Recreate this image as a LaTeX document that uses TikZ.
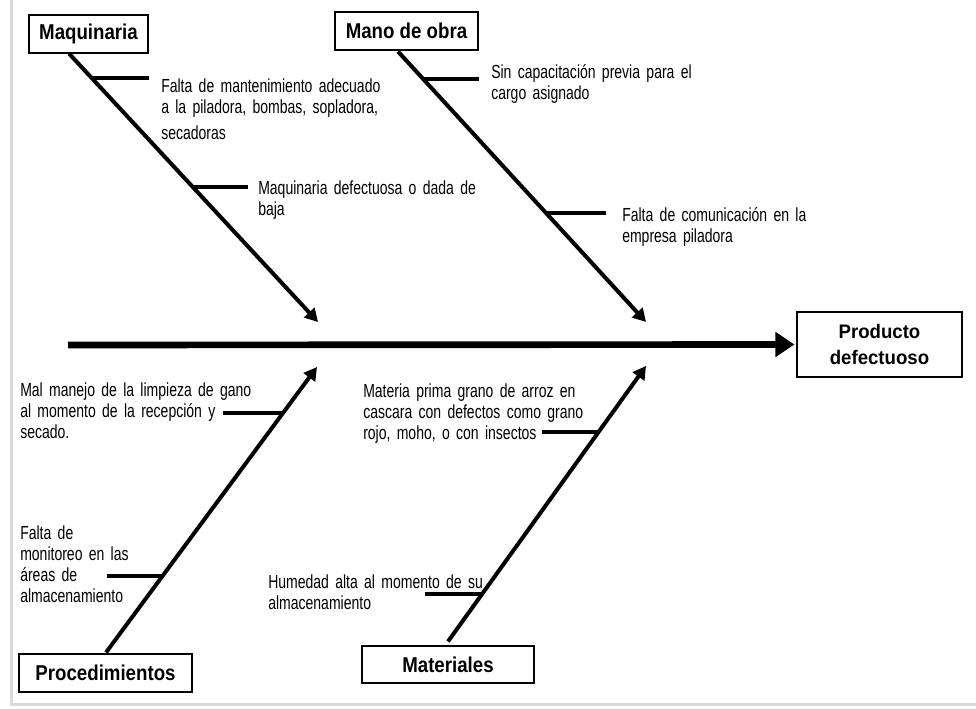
\documentclass[tikz,border=0pt]{standalone}
\usepackage{fontspec}
\setmainfont{Liberation Sans}[FakeStretch=0.74]
\newfontfamily\causefont{Liberation Sans}[FakeStretch=0.87]
\newfontfamily\effectfont{Liberation Sans}[FakeStretch=0.95]
\usetikzlibrary{arrows.meta}
\usetikzlibrary{calc}

\begin{document}
\begin{tikzpicture}[x = 0.75pt, y = -0.75pt, >={Triangle[length=9.75pt, width=10.5pt]}]
    \tikzset{
        cause/.style={draw, line width=0.8pt, inner sep=0, minimum height=28.5pt,
            font=\causefont\bfseries\fontsize{16.1}{19}\selectfont},
        bone/.style={line width=3pt, ->},
        rib/.style={line width=3pt},
        note/.style={anchor=base west, inner sep=0, text width=176pt, align=left,
            font=\fontsize{14.2}{15.75}\selectfont}
    }
    \useasboundingbox (0,0) rectangle (976,709);
    \draw [black!15, line width=2pt] (11.5,0) -- (11.5,704.5) -- (976,704.5);

    % cause and effect boxes
    \node [cause, minimum width=89.25pt] (maq) at (88.5,34) {Maquinaria};
    \node [cause, minimum width=107.25pt] (mano) at (406.5,31) {Mano de obra};
    \node [cause, minimum width=129.75pt] (proc) at (105.5,673) {Procedimientos};
    \node [cause, minimum width=129pt, minimum height=27.75pt] (mat) at (448,664.5) {Materiales};
    \node [draw, line width=0.8pt, inner sep=0, minimum width=123.75pt, minimum height=48.75pt,
        align=center, font=\effectfont\bfseries\fontsize{14.7}{19.5}\selectfont]
        (eff) at (879.5,344.5) {Producto\\defectuoso};

    \coordinate (tail) at (68,345);
    \coordinate (maqtip) at (318,322);
    \coordinate (manotip) at (646,322);
    \coordinate (proctip) at (317,367);
    \coordinate (mattip) at (646,366);
    \coordinate (maqroot) at ($(maq.south)+(-19.5,0)$);
    \coordinate (manoroot) at ($(mano.south)+(-8.5,1)$);
    \coordinate (procroot) at ($(proc.north)+(0.5,-1)$);
    \coordinate (matroot) at ($(mat.north)+(0,-4)$);

    % spine
    \draw [line width=5pt, -{Triangle[length=14.25pt, width=18pt]}, shorten >=1.5pt] (tail) -- (eff.west);

    % bones
    \draw [bone] (maqroot) -- (maqtip);
    \draw [bone] (manoroot) -- (manotip);
    \draw [bone] (procroot) -- (proctip);
    \draw [bone] (matroot) -- (mattip);

    \draw [rib] ($(maqroot)!0.093!(maqtip)$) -- ++(57,0);
    \draw [rib] ($(maqroot)!0.498!(maqtip)$) -- ++(55,0);
    \draw [rib] ($(manoroot)!0.10!(manotip)$) -- ++(56,0);
    \draw [rib] ($(manoroot)!0.598!(manotip)$) -- ++(60,0);
    \draw [rib] ($(procroot)!0.839!(proctip)$) -- ++(-60,0);
    \draw [rib] ($(procroot)!0.269!(proctip)$) -- ++(-56,0);
    \draw [rib] ($(matroot)!0.761!(mattip)$) -- ++(-57,0);
    \draw [rib] ($(matroot)!0.174!(mattip)$) -- ++(-57,0);

    % notes
    \node [note] (maqa) at (161,93) {\makebox[171pt][s]{Falta de mantenimiento adecuado}\\
        \makebox[171pt][s]{a la piladora, bombas, sopladora,}\\[3.75pt] secadoras};
    \node [note] (maqb) at (258,195) {\makebox[171pt][s]{Maquinaria defectuosa o dada de}\\ baja};
    \node [note] (manoa) at (491,79) {\makebox[171pt][s]{Sin capacitación previa para el}\\ cargo asignado};
    \node [note] (manob) at (622,222) {\makebox[171pt][s]{Falta de comunicación en la}\\ empresa piladora};
    \node [note] (proca) at (20,397) {Mal manejo de la limpieza de gano\\ al momento de la recepción y\\ secado.};
    \node [note] (procb) at (20,540) {Falta de\\ monitoreo en las\\ áreas de\\ almacenamiento};
    \node [note] (mata) at (363,398) {Materia prima grano de arroz en\\ cascara con defectos como grano\\ rojo, moho, o con insectos};
    \node [note] (matb) at (268,589) {Humedad alta al momento de su\\ almacenamiento};
\end{tikzpicture}
\end{document}
